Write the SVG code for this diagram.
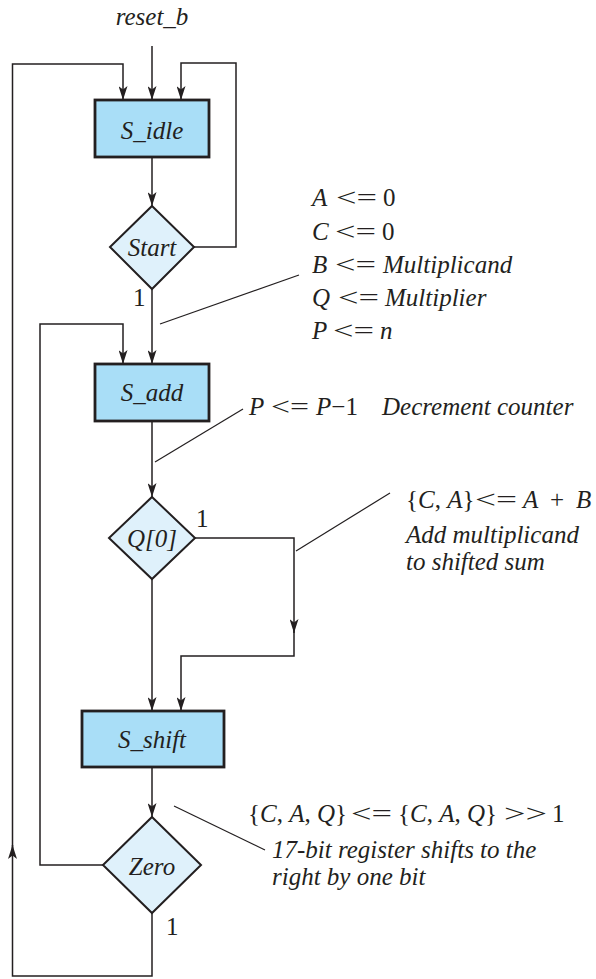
<svg xmlns="http://www.w3.org/2000/svg" width="596" height="979" viewBox="0 0 596 979">
  <defs>
    <marker id="arrow" viewBox="0 0 14 9" refX="14" refY="4.5" markerWidth="14" markerHeight="9" markerUnits="userSpaceOnUse" orient="auto">
      <path d="M0,0 L14,4.5 L0,9 L3.5,4.5 Z" fill="#231f20"/>
    </marker>
  </defs>
  <style>
    .box { fill: #a9def7; stroke: #231f20; stroke-width: 2.8; }
    .dia { fill: #dff1fb; stroke: #231f20; stroke-width: 2; }
    .wire { fill: none; stroke: #231f20; stroke-width: 1.5; }
    .arr { marker-end: url(#arrow); }
    .lead { fill: none; stroke: #231f20; stroke-width: 1.2; }
    text { font-family: "Liberation Serif", serif; fill: #231f20; font-size: 25px; }
    .it { font-style: italic; }
    .node { text-anchor: middle; font-style: italic; }
  </style>

  <rect width="596" height="979" fill="#ffffff"/>

  <!-- connectors -->
  <g id="connectors">
    <path class="wire arr" d="M152,46 V100"/>
    <path class="wire arr" d="M152,913 V976 H12.5 V845"/>
    <path class="wire arr" d="M12.5,850 V64 H123 V100"/>
    <path class="wire arr" d="M194,247 H236 V63 H181 V100"/>
    <path class="wire arr" d="M152,157 V206"/>
    <path class="wire arr" d="M152,289 V364"/>
    <path class="wire arr" d="M103,865 H40 V324 H123 V364"/>
    <path class="wire arr" d="M152,421 V497"/>
    <path class="wire arr" d="M152,579 V711"/>
    <path class="wire arr" d="M195,538 H294 V633"/>
    <path class="wire arr" d="M294,628 V656 H181 V711"/>
    <path class="wire arr" d="M152,767 V817"/>
    <!-- callout leaders -->
    <path class="lead" d="M299,275 L160,324"/>
    <path class="lead" d="M243,409 L155,462"/>
    <path class="lead" d="M390,493 L296,551"/>
    <path class="lead" d="M174,806 L265,850"/>
  </g>

  <g font-family="Liberation Serif, serif">
  <!-- reset input -->
  <g id="reset_b">
    <text class="node" x="152" y="25">reset_b</text>
  </g>

  <!-- states -->
  <g id="S_idle">
    <rect class="box" x="95" y="100" width="114" height="57"/>
    <text class="node" x="152" y="139">S_idle</text>
  </g>
  <g id="Start">
    <polygon class="dia" points="152,206 194,247 152,289 110,247"/>
    <text class="node" x="152" y="256">Start</text>
    <text x="133" y="306" font-size="24">1</text>
  </g>
  <g id="S_add">
    <rect class="box" x="95" y="364" width="114" height="57"/>
    <text class="node" x="152" y="401">S_add</text>
  </g>
  <g id="Q0">
    <polygon class="dia" points="152,497 195,538 152,579 109,538"/>
    <text class="node" x="152" y="547">Q[0]</text>
    <text x="196" y="527" font-size="24">1</text>
  </g>
  <g id="S_shift">
    <rect class="box" x="82" y="711" width="142" height="56"/>
    <text class="node" x="152" y="748">S_shift</text>
  </g>
  <g id="Zero">
    <polygon class="dia" points="152,817 201,865 152,913 103,865"/>
    <text class="node" x="152" y="875">Zero</text>
    <text x="166" y="935" font-size="24">1</text>
  </g>

  <!-- register transfer notes; the operators are stretched to a wide math width -->
  <g id="init-note">
    <text x="312" y="206"><tspan class="it">A</tspan><tspan x="336" textLength="41" lengthAdjust="spacingAndGlyphs">&lt;=</tspan><tspan x="383">0</tspan></text>
    <text x="312" y="240"><tspan class="it">C</tspan><tspan x="335" textLength="41" lengthAdjust="spacingAndGlyphs">&lt;=</tspan><tspan x="382">0</tspan></text>
    <text x="312" y="273"><tspan class="it">B</tspan><tspan x="335" textLength="41" lengthAdjust="spacingAndGlyphs">&lt;=</tspan><tspan class="it" x="383">Multiplicand</tspan></text>
    <text x="312" y="306"><tspan class="it">Q</tspan><tspan x="338" textLength="41" lengthAdjust="spacingAndGlyphs">&lt;=</tspan><tspan class="it" x="385">Multiplier</tspan></text>
    <text x="312" y="339"><tspan class="it">P</tspan><tspan x="333" textLength="41" lengthAdjust="spacingAndGlyphs">&lt;=</tspan><tspan class="it" x="380">n</tspan></text>
  </g>
  <g id="decrement-note">
    <text x="249" y="415"><tspan class="it">P</tspan><tspan x="271" textLength="38" lengthAdjust="spacingAndGlyphs">&lt;=</tspan><tspan class="it" x="316">P</tspan>−1<tspan class="it" x="382">Decrement counter</tspan></text>
  </g>
  <g id="add-note">
    <text x="406" y="508">{<tspan class="it">C</tspan>, <tspan class="it">A</tspan>}<tspan x="475" textLength="42" lengthAdjust="spacingAndGlyphs">&lt;=</tspan><tspan class="it" x="523">A</tspan><tspan x="550">+</tspan><tspan class="it" x="576">B</tspan></text>
    <text class="it" x="406" y="543">Add multiplicand</text>
    <text class="it" x="406" y="570">to shifted sum</text>
  </g>
  <g id="shift-note">
    <text x="248" y="822">{<tspan class="it">C</tspan>, <tspan class="it">A</tspan>, <tspan class="it">Q</tspan>}<tspan x="351" textLength="41" lengthAdjust="spacingAndGlyphs">&lt;=</tspan><tspan x="398">{</tspan><tspan class="it">C</tspan>, <tspan class="it">A</tspan>, <tspan class="it">Q</tspan>}<tspan x="504" textLength="43" lengthAdjust="spacingAndGlyphs">&gt;&gt;</tspan><tspan x="552">1</tspan></text>
    <text class="it" x="272" y="858">17-bit register shifts to the</text>
    <text class="it" x="272" y="885">right by one bit</text>
  </g>
  </g>
</svg>
